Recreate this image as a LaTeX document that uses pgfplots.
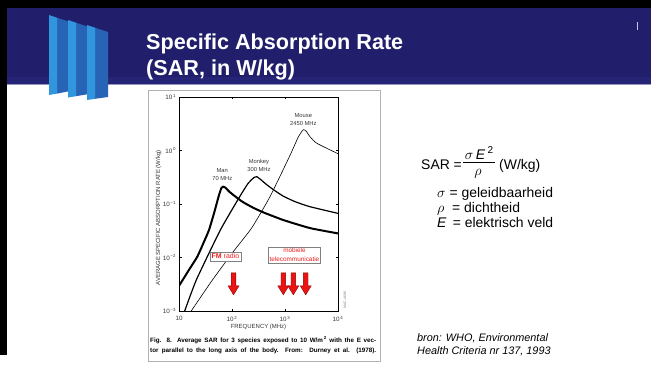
\documentclass[border=0pt]{standalone}
\usepackage{fontspec}
\setmainfont{Liberation Sans}
\usepackage{pgfplots}
\pgfplotsset{compat=1.18}
\definecolor{navy}{RGB}{33,31,107}
\definecolor{navylow}{RGB}{38,36,118}
\definecolor{logoA}{RGB}{50,150,222}
\definecolor{logoB}{RGB}{40,100,182}
\definecolor{tickc}{RGB}{55,55,55}
\definecolor{arrred}{RGB}{235,20,20}
\definecolor{arrdark}{RGB}{140,0,0}
\definecolor{txtred}{RGB}{240,30,30}
\begin{document}
\begin{tikzpicture}[x=1bp,y=1bp]
\path[use as bounding box, fill=white] (0,0) rectangle (651,367);
% header band
\fill[navy] (7,283) rectangle (651,359);
\fill[navylow] (7,283) rectangle (651,290);
\fill[black] (0,359) rectangle (651,367);
\fill[black] (0,12) rectangle (7,367);
\draw[color={rgb,255:red,150;green,150;blue,195}, line width=1bp] (7,282.5) -- (651,282.5);
% logo panels
\foreach \i in {0,1,2}{
  \pgfmathsetmacro{\L}{49+19*\i}
  \pgfmathsetmacro{\R}{\L+21}
  \pgfmathsetmacro{\M}{\L+8}
  \pgfmathsetmacro{\tl}{367-15-5*\i}
  \pgfmathsetmacro{\tr}{367-22-5*\i}
  \pgfmathsetmacro{\tm}{367-17.7-5*\i}
  \pgfmathsetmacro{\bl}{367-95-2.5*\i}
  \pgfmathsetmacro{\br}{367-91-3*\i}
  \pgfmathsetmacro{\bm}{367-93.6-2.6*\i}
  \fill[logoB] (\M,\tm) -- (\R,\tr) -- (\R,\br) -- (\M,\bm) -- cycle;
  \fill[logoA] (\L,\tl) -- (\M,\tm) -- (\M,\bm) -- (\L,\bl) -- cycle;
}
% title
\node[anchor=base west, inner sep=0, text=white, font=\fontsize{21.7}{26}\selectfont\bfseries] at (146,318) {Specific Absorption Rate};
\node[anchor=base west, inner sep=0, text=white, font=\fontsize{21.7}{26}\selectfont\bfseries] at (146,292) {(SAR, in W/kg)};
\draw[color={rgb,255:red,200;green,200;blue,230}, line width=0.9bp] (637,345) -- (637,337);
% figure frame
\draw[gray!60, line width=0.8bp] (148,277) rectangle (380,6);
\begin{axis}[
  at={(179bp,56bp)}, anchor=south west, scale only axis,
  width=159bp, height=214bp,
  xmode=log, ymode=log,
  xmin=10, xmax=10000, ymin=0.001, ymax=10,
  xtick={10,100,1000,10000},
  xticklabels={10, 10\textsuperscript{\,2}, 10\textsuperscript{\,3}, 10\textsuperscript{\,4}},
  ytick={0.001,0.01,0.1,1,10},
  yticklabels={10\textsuperscript{\,−3}, 10\textsuperscript{\,−2}, 10\textsuperscript{\,−1}, 10\textsuperscript{\,0}, 10\textsuperscript{\,1}},
  xminorticks=false, yminorticks=false,
  tick align=inside, major tick length=2.5bp,
  axis line style={black, line width=0.6bp},
  tick style={black, line width=0.5bp},
  ticklabel style={font=\fontsize{6.3}{7}\selectfont, text=tickc},
  xticklabel style={yshift=-1.5bp},
  yticklabel style={xshift=0.5bp},
  xlabel={FREQUENCY (MHz)},
  ylabel={AVERAGE SPECIFIC ABSORPTION RATE (W/kg)},
  label style={font=\fontsize{6}{7}\selectfont, text=tickc},
  xlabel style={yshift=4bp},
  ylabel style={at={(ticklabel cs:0.435)}, yshift=-5.5bp},
]
% Man
\addplot[black, line width=2bp, smooth, tension=0.3, line join=round] coordinates {
(10,0.00295) (15.45,0.00589) (22.13,0.01035) (29.65,0.01972) (36.81,0.03266)
(45.71,0.0668) (56.89,0.1472) (63.1,0.1995) (67.6,0.2113) (74.1,0.2042)
(89.1,0.1698) (112.2,0.1413) (158.5,0.1096) (251.2,0.0851) (398.1,0.0692)
(933,0.0501) (2951,0.0355) (10000,0.0282)};
% Monkey
\addplot[black, line width=1.2bp, smooth, tension=0.3, line join=round] coordinates {
(12.8,0.001) (21.2,0.0038) (60.3,0.0327) (139.6,0.1368) (199.5,0.24)
(263,0.316) (295,0.3236) (354.8,0.2818) (446.7,0.2317) (631,0.1799)
(933,0.1396) (1585,0.1096) (2951,0.0891) (10000,0.0668)};
% Mouse
\addplot[black, line width=0.6bp, smooth, tension=0.3, line join=round] coordinates {
(17.0,0.001) (40.7,0.00355) (100,0.012) (234.4,0.0355) (521,0.137)
(1230,0.794) (1778,1.778) (2213,2.455) (2512,2.29) (2951,1.82) (3981,1.365) (10000,0.871)};
% labels
\node[align=center, inner sep=0, font=\fontsize{5.8}{7.8}\selectfont, text=tickc] at (rel axis cs:0.272,0.636) {Man\\70 MHz};
\node[align=center, inner sep=0, font=\fontsize{5.8}{7.8}\selectfont, text=tickc] at (rel axis cs:0.503,0.679) {Monkey\\300 MHz};
\node[align=center, inner sep=0, font=\fontsize{5.8}{7.8}\selectfont, text=tickc] at (rel axis cs:0.782,0.895) {Mouse\\2450 MHz};
\node[draw=gray, fill=white, line width=0.5bp, inner xsep=1.8bp, inner ysep=1.8bp, text=txtred, font=\fontsize{7}{8}\selectfont] at (rel axis cs:0.292,0.255) {\textbf{FM} radio};
\node[draw=gray, fill=white, line width=0.5bp, inner xsep=1.5bp, inner ysep=1.5bp, align=center, text=txtred, font=\fontsize{6.4}{8.5}\selectfont] at (rel axis cs:0.726,0.262) {mobiele\\telecommunicatie};
\coordinate (a1) at (rel axis cs:0.343,0.127);
\coordinate (a2) at (rel axis cs:0.656,0.127);
\coordinate (a3) at (rel axis cs:0.719,0.127);
\coordinate (a4) at (rel axis cs:0.797,0.127);
\end{axis}
% arrows (annotation, anchored at axis positions)
\foreach \a in {a1,a2,a3,a4}{
  \filldraw[fill=arrred, draw=arrdark, line width=0.4bp]
    ([shift={(-2.3,11)}]\a) -- ([shift={(2.3,11)}]\a) -- ([shift={(2.3,-2)}]\a)
    -- ([shift={(5.5,-2)}]\a) -- ([shift={(0,-11)}]\a) -- ([shift={(-5.5,-2)}]\a)
    -- ([shift={(-2.3,-2)}]\a) -- cycle;
}
\node[rotate=90, inner sep=0, font=\fontsize{3.5}{4}\selectfont, text=gray] at (345,67) {MAC-4698};
% caption
\node[anchor=base west, inner sep=0, font=\fontsize{6.3}{7}\selectfont\bfseries] at (150,25) {\makebox[226bp][s]{Fig. 8.\ \ Average SAR for 3 species exposed to 10 W/m\textsuperscript{\,2} with the E vec-}};
\node[anchor=base west, inner sep=0, font=\fontsize{6.3}{7}\selectfont\bfseries] at (150,15) {\makebox[226bp][s]{tor parallel to the long axis of the body.\ \ From:\ \ Durney et al.\ \ (1978).}};
% formula
\node[anchor=base west, inner sep=0, font=\fontsize{14}{16}\selectfont] at (421,198) {SAR =};
\draw[black, line width=0.7bp] (463,204.5) -- (495,204.5);
\node[anchor=base, inner sep=0, font=\fontsize{14}{16}\selectfont] at (479,208) {$\sigma$\,\textit{E}\,\raisebox{5.5bp}{\fontsize{10}{10}\selectfont 2}};
\node[anchor=base, inner sep=0, font=\fontsize{14}{16}\selectfont] at (478,192) {$\rho$};
\node[anchor=base west, inner sep=0, font=\fontsize{14}{16}\selectfont] at (499,198) {(W/kg)};
\node[anchor=base west, inner sep=0, font=\fontsize{14}{16}\selectfont] at (437,169.5) {$\sigma$ = geleidbaarheid};
\node[anchor=base west, inner sep=0, font=\fontsize{14}{16}\selectfont] at (437,154.5) {$\rho$\ \ = dichtheid};
\node[anchor=base west, inner sep=0, font=\fontsize{14}{16}\selectfont] at (437,139.5) {\textit{E}\ \,= elektrisch veld};
% source
\node[anchor=base west, inner sep=0, font=\fontsize{10.9}{13}\selectfont\itshape] at (417,25.7) {bron: WHO, Environmental};
\node[anchor=base west, inner sep=0, font=\fontsize{10.9}{13}\selectfont\itshape] at (417,12.3) {Health Criteria nr 137, 1993};
\end{tikzpicture}
\end{document}
